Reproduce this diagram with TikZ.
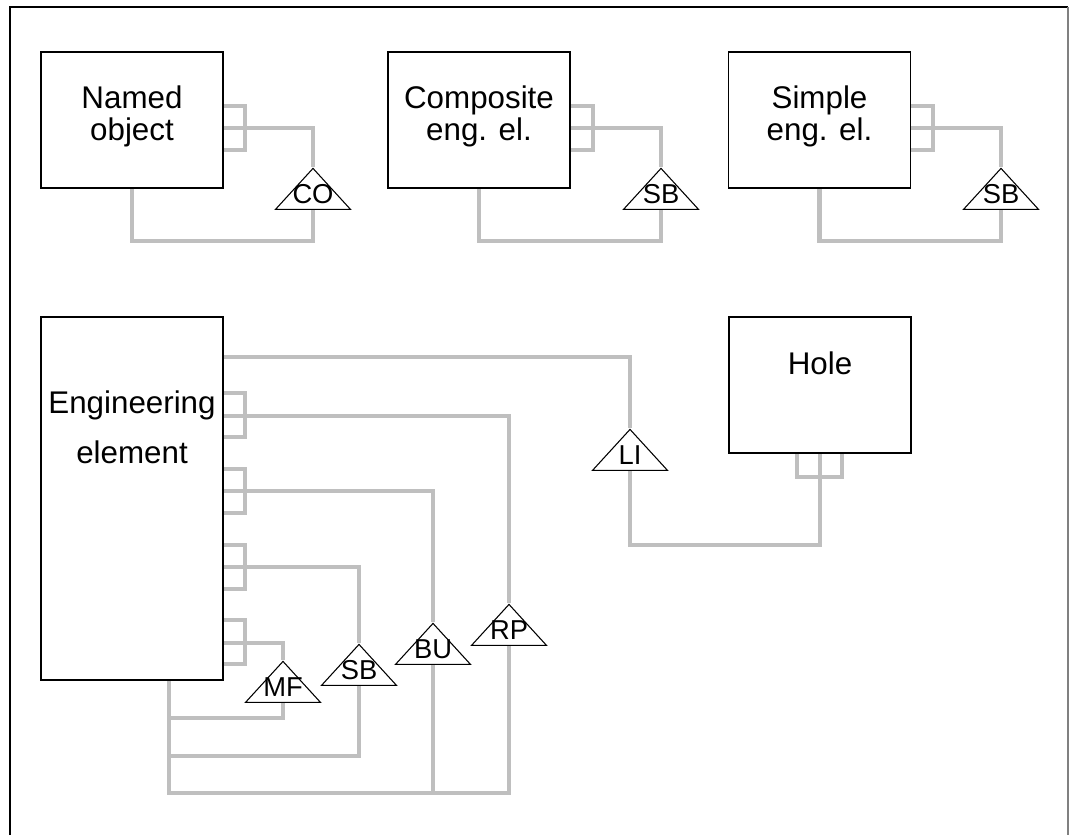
\documentclass[tikz,border=0pt]{standalone}
\usepackage{fontspec}
\setmainfont{Liberation Sans}
\usetikzlibrary{shapes.geometric,backgrounds}

\begin{document}
\begin{tikzpicture}[x=0.75pt,y=-0.75pt,
  entity/.style={draw=black, line width=0.8pt, fill=white, minimum width=136.5pt, minimum height=102pt, inner sep=0pt},
  etext/.style={anchor=north, align=center, inner sep=0pt, font=\fontsize{23.5}{24}\selectfont},
  rel/.style={draw=black, line width=0.8pt, fill=white, isosceles triangle, isosceles triangle stretches, shape border rotate=90, minimum width=56.25pt, minimum height=30.75pt, inner sep=0pt, anchor=apex},
  rtext/.style={anchor=base, inner sep=0pt, font=\fontsize{20.5}{20.5}\selectfont},
  link/.style={draw=black!25, line width=3.7pt}]
\useasboundingbox (0,0) rectangle (1069,835);
\draw[line width=0.8pt] (10,835) -- (10,7) -- (1068,7);
\draw[line width=0.8pt, black!50] (1068,7) -- (1068,835);

% top row
\node[entity] (named) at (132,120) {};
\node[etext] (namedtxt) at (132,86) {Named\\object};
\node[entity] (comp) at (479,120) {};
\node[etext] (comptxt) at (479,86) {Composite\\eng. el.};
\node[entity] (simp) at (819.5,120) {};
\node[etext] (simptxt) at (819.5,86) {Simple\\eng. el.};
\node[rel] (co) at (313,167) {};
\node[rtext] (cotxt) at (313,203) {CO};
\node[rel] (sbc) at (661,167) {};
\node[rtext] (sbctxt) at (661,203) {SB};
\node[rel] (sbs) at (1001,167) {};
\node[rtext] (sbstxt) at (1001,203) {SB};

% lower part
\node[entity, minimum height=272.25pt] (eng) at (132,498.5) {};
\node[etext] (engtxt) at (132,391) {Engineering\\[13.5pt]element};
\node[entity] (hole) at (820,385) {};
\node[etext] (holetxt) at (820,352) {Hole};
\node[rel] (li) at (630,428) {};
\node[rtext] (litxt) at (630,464) {LI};
\node[rel] (rp) at (509,603) {};
\node[rtext] (rptxt) at (509,639) {RP};
\node[rel] (bu) at (433,622) {};
\node[rtext] (butxt) at (433,658) {BU};
\node[rel] (sbe) at (359,643) {};
\node[rtext] (sbetxt) at (359,679) {SB};
\node[rel] (mf) at (283,660) {};
\node[rtext] (mftxt) at (283,696) {MF};

\begin{scope}[on background layer]
% top row links
\draw[link] (named.east |- 0,106) -- (245,106) -- (245,150) -- (named.east |- 0,150);
\draw[link] (named.east |- 0,128) -| (co.apex);
\draw[link] (co.lower side) -- (313,241) -| (named.south);
\draw[link] (comp.east |- 0,106) -- (593,106) -- (593,150) -- (comp.east |- 0,150);
\draw[link] (comp.east |- 0,128) -| (sbc.apex);
\draw[link] (sbc.lower side) -- (661,241) -| (comp.south);
\draw[link] (simp.east |- 0,106) -- (933,106) -- (933,150) -- (simp.east |- 0,150);
\draw[link] (simp.east |- 0,128) -| (sbs.apex);
\draw[link] (sbs.lower side) -- (1001,241) -| (simp.south);
% engineering element links
\draw[link] (eng.east |- 0,357) -| (li.apex);
\draw[link] (li.lower side) -- (630,545) -| (hole.south);
\draw[link] (hole.south -| 797,0) -- (797,477) -- (842,477) -- (hole.south -| 842,0);
\foreach \y in {393,469,545,620}
  \draw[link] (eng.east |- 0,\y) -- (245,\y) -- (245,\y+44) -- (eng.east |- 0,\y+44);
\draw[link] (eng.east |- 0,416) -| (rp.apex);
\draw[link] (eng.east |- 0,491) -| (bu.apex);
\draw[link] (eng.east |- 0,567) -| (sbe.apex);
\draw[link] (eng.east |- 0,643) -| (mf.apex);
\draw[link] (eng.south -| 169,0) -- (169,793) -| (rp.lower side);
\draw[link] (169,718) -| (mf.lower side);
\draw[link] (169,756) -| (sbe.lower side);
\draw[link] (bu.lower side) -- (bu.lower side |- 0,793);
\end{scope}
\end{tikzpicture}
\end{document}
